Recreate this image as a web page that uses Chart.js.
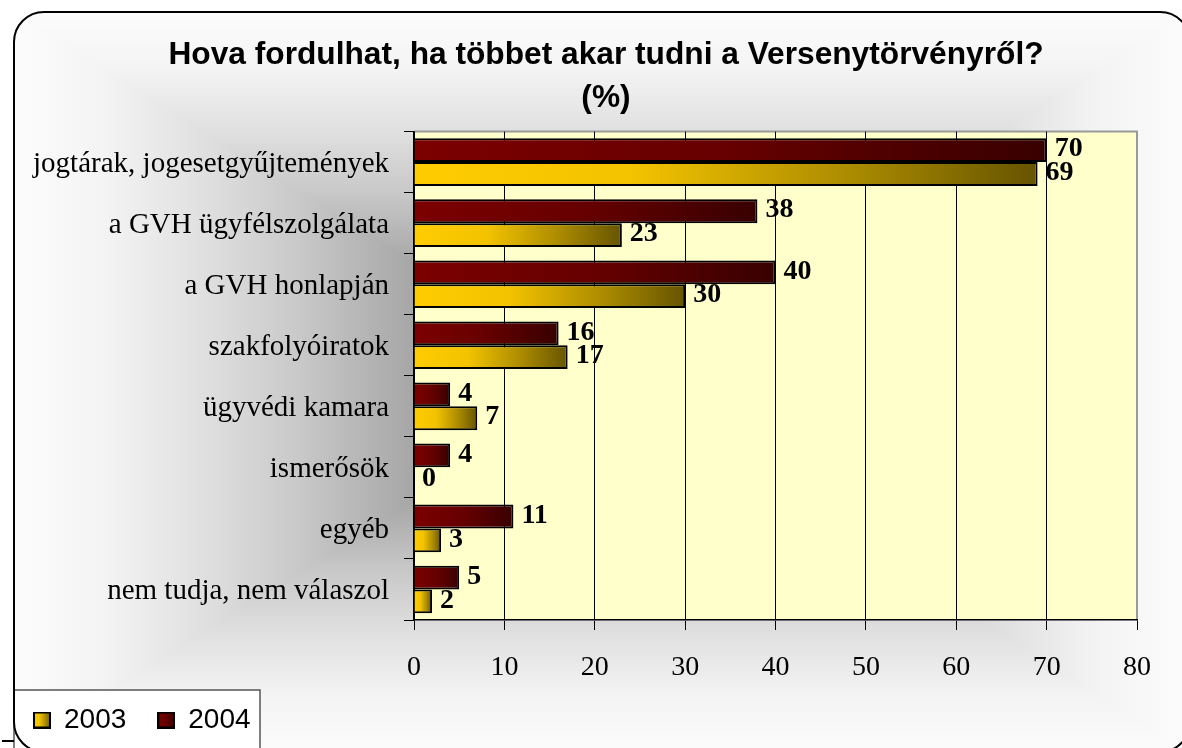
<!DOCTYPE html>
<html>
<head>
<meta charset="utf-8">
<script src="https://cdn.jsdelivr.net/npm/chart.js@4"></script>
<style>
  html, body { margin: 0; padding: 0; background: #fff; }
  #wrap { width: 1182px; height: 748px; }
</style>
</head>
<body>
<div id="wrap"><canvas id="chart" width="1182" height="748"></canvas></div>
<script>
// --- data ---
const CATEGORIES = [
  "jogtárak, jogesetgyűjtemények",
  "a GVH ügyfélszolgálata",
  "a GVH honlapján",
  "szakfolyóiratok",
  "ügyvédi kamara",
  "ismerősök",
  "egyéb",
  "nem tudja, nem válaszol",
];
const VALUES_2004 = [70, 38, 40, 16, 4, 4, 11, 5];
const VALUES_2003 = [69, 23, 30, 17, 7, 0, 3, 2];
const X_MIN = 0;
const X_MAX = 80;
const X_STEP = 10;
const TITLE = ["Hova fordulhat, ha többet akar tudni a Versenytörvényről?", "(%)"];

const SERIF = "'Liberation Serif', 'Times New Roman', serif";
const SANS = "'Liberation Sans', Arial, sans-serif";

const GOLD = [[0, "#ffcc00"], [0.35, "#f3c300"], [0.7, "#ab8b00"], [1, "#665400"]];
const RED = [[0, "#7c0000"], [0.5, "#660000"], [1, "#380000"]];
// grey "from centre" fill of the frame: t = 0 centre, t = 1 edge
const SHADE = [[0, "#7a7a7a"], [0.33, "#a8a8a8"], [0.51, "#c8c8c8"], [0.68, "#e0e0e0"], [0.85, "#f4f4f4"], [1, "#fcfcfc"]];
const FRAME = { x: 14, y: 12, w: 1176, h: 740, r: 30 };

// gradient runs along each bar, from the axis to the bar end
function barFill(stops) {
  return (c) => {
    const chart = c.chart;
    if (!chart.chartArea || c.type !== "data") return stops[0][1];
    const x = chart.scales.x;
    const x0 = x.getPixelForValue(0);
    const x1 = x.getPixelForValue(c.raw);
    if (x1 - x0 < 1) return stops[0][1];
    const g = chart.ctx.createLinearGradient(x0, 0, x1, 0);
    stops.forEach(([o, col]) => g.addColorStop(o, col));
    return g;
  };
}

function swatch(stops) {
  const c = document.createElement("canvas");
  c.width = 18;
  c.height = 17;
  const g = c.getContext("2d");
  const grad = g.createLinearGradient(0, 0, 18, 0);
  stops.forEach(([o, col]) => grad.addColorStop(o, col));
  g.fillStyle = grad;
  g.fillRect(0, 0, 18, 17);
  g.strokeStyle = "#000";
  g.lineWidth = 2;
  g.strokeRect(1, 1, 16, 15);
  return c;
}
const SWATCHES = [swatch(RED), swatch(GOLD)];

// rectangular centre-out shading: horizontal pass, then top/bottom wedges
function shadeFrame(ctx) {
  const { x, y, w, h } = FRAME;
  const cx = x + w / 2, cy = y + h / 2;
  const hg = ctx.createLinearGradient(x, 0, x + w, 0);
  SHADE.forEach(([t, col]) => {
    hg.addColorStop(0.5 - t / 2, col);
    hg.addColorStop(0.5 + t / 2, col);
  });
  ctx.fillStyle = hg;
  ctx.fillRect(x, y, w, h);

  const wedge = (ey, c1, c2) => {
    const g = ctx.createLinearGradient(0, cy, 0, ey);
    SHADE.forEach(([t, col]) => g.addColorStop(t, col));
    ctx.fillStyle = g;
    ctx.beginPath();
    ctx.moveTo(cx, cy);
    ctx.lineTo(c1, ey);
    ctx.lineTo(c2, ey);
    ctx.closePath();
    ctx.fill();
  };
  wedge(y, x, x + w);
  wedge(y + h, x, x + w);
}

// frame, grey backdrop, yellow plot, legend box
const backdrop = {
  id: "backdrop",
  beforeDraw(chart) {
    const { ctx, chartArea: a } = chart;
    ctx.save();
    ctx.fillStyle = "#fff";
    ctx.fillRect(0, 0, chart.width, chart.height);

    const frame = new Path2D();
    frame.roundRect(FRAME.x, FRAME.y, FRAME.w, FRAME.h, FRAME.r);
    ctx.save();
    ctx.clip(frame);
    shadeFrame(ctx);
    ctx.restore();

    ctx.fillStyle = "#ffffcc";
    ctx.fillRect(a.left, a.top, a.right - a.left, a.bottom - a.top);
    ctx.strokeStyle = "#9a9a9a";
    ctx.lineWidth = 2;
    ctx.beginPath();
    ctx.moveTo(a.left, a.top);
    ctx.lineTo(a.right, a.top);
    ctx.lineTo(a.right, a.bottom);
    ctx.stroke();

    ctx.fillStyle = "#fff";
    ctx.fillRect(14, 690, 246, 70);
    ctx.strokeStyle = "#555";
    ctx.lineWidth = 1.5;
    ctx.strokeRect(14, 690, 246, 70);

    ctx.strokeStyle = "#000";
    ctx.lineWidth = 2;
    ctx.stroke(frame);
    ctx.beginPath();
    ctx.moveTo(2, 741);
    ctx.lineTo(14, 741);
    ctx.stroke();
    ctx.restore();
  },
  afterLayout(chart) {
    // title centred over the frame, legend tucked in the lower-left box
    chart.titleBlock.left = 75;
    chart.legend.left = 2;
    chart.legend.top = 674;
  },
};

const valueLabels = {
  id: "valueLabels",
  afterDatasetsDraw(chart) {
    const { ctx } = chart;
    ctx.save();
    ctx.font = `bold 28px ${SERIF}`;
    ctx.fillStyle = "#000";
    ctx.textAlign = "left";
    ctx.textBaseline = "middle";
    chart.data.datasets.forEach((ds, i) => {
      chart.getDatasetMeta(i).data.forEach((bar, j) => {
        ctx.fillText(String(ds.data[j]), bar.x + 8, bar.y - 1);
      });
    });
    ctx.restore();
  },
};

new Chart(document.getElementById("chart"), {
  type: "bar",
  data: {
    labels: CATEGORIES,
    datasets: [
      { label: "2004", data: VALUES_2004, backgroundColor: barFill(RED) },
      { label: "2003", data: VALUES_2003, backgroundColor: barFill(GOLD) },
    ],
  },
  options: {
    indexAxis: "y",
    responsive: false,
    animation: false,
    devicePixelRatio: 1,
    layout: { padding: { left: 0, right: 45, top: 0, bottom: 0 } },
    datasets: {
      bar: { borderColor: "#000", borderWidth: 2, categoryPercentage: 0.78, barPercentage: 1 },
    },
    scales: {
      x: {
        min: X_MIN,
        max: X_MAX,
        ticks: { stepSize: X_STEP, color: "#000", font: { family: SERIF, size: 28 }, padding: 21 },
        grid: {
          color: (c) => (c.tick && c.tick.value === X_MAX ? "#9a9a9a" : "#000"),
          tickColor: "#000",
          lineWidth: 1,
          tickLength: 10,
        },
        border: { color: "#000", width: 1.5 },
        afterFit: (s) => { s.height = 58; },
      },
      y: {
        ticks: { color: "#000", font: { family: SERIF, size: 29 }, padding: 15, labelOffset: 2 },
        grid: { drawOnChartArea: false, color: "#000", tickLength: 10, offset: true },
        border: { color: "#000", width: 1.5 },
        afterFit: (s) => { s.width = 414; },
      },
    },
    plugins: {
      title: {
        display: true,
        text: TITLE,
        color: "#000",
        font: { family: SANS, size: 31.7, weight: "bold", lineHeight: 1.35 },
        padding: { top: 34, bottom: 12 },
      },
      legend: {
        position: "bottom",
        align: "start",
        reverse: true,
        labels: {
          color: "#000",
          font: { family: SANS, size: 28 },
          padding: 32,
          boxWidth: 16,
          boxHeight: 16,
          usePointStyle: true,
          generateLabels: (chart) =>
            chart.data.datasets.map((ds, i) => ({
              text: ds.label,
              pointStyle: SWATCHES[i],
              datasetIndex: i,
              hidden: false,
              fillStyle: "#000",
              strokeStyle: "#000",
              lineWidth: 0,
              fontColor: "#000",
            })),
        },
      },
      tooltip: { enabled: false },
    },
  },
  plugins: [backdrop, valueLabels],
});
</script>
</body>
</html>
